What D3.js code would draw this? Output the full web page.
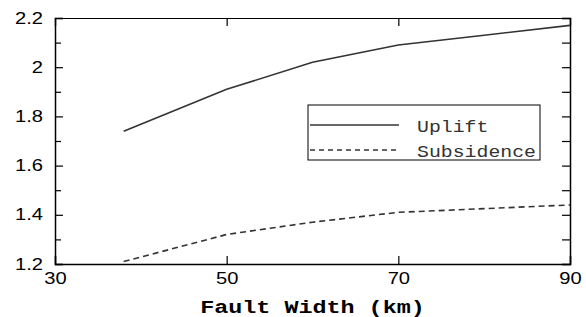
<!DOCTYPE html>
<html>
<head>
<meta charset="utf-8">
<script src="https://cdn.jsdelivr.net/npm/d3@7"></script>
<style>
  body { margin: 0; background: #fff; }
  svg { display: block; }
</style>
</head>
<body>
<div id="chart"></div>
<script>
const width = 586;
const height = 317;
const margin = {top: 18, right: 16, bottom: 53, left: 55};
const stretch = 1.26; // the original text is drawn wider than it is tall

// values
const faultWidth = [38, 50, 60, 70, 80, 90];
const uplift = [1.74, 1.91, 2.02, 2.09, 2.13, 2.17];
const subsidence = [1.21, 1.32, 1.37, 1.41, 1.425, 1.44];
const xTicks = [30, 50, 70, 90];
const yTicks = [1.2, 1.4, 1.6, 1.8, 2, 2.2];
const yMinor = [1.3, 1.5, 1.7, 1.9, 2.1];
const seriesNames = ["Uplift", "Subsidence"];

const x = d3.scaleLinear()
  .domain([30, 90])
  .range([margin.left, width - margin.right]);

const y = d3.scaleLinear()
  .domain([1.2, 2.2])
  .range([height - margin.bottom, margin.top]);

const svg = d3.select('#chart').append('svg')
  .attr('width', width)
  .attr('height', height);

const tickFont = g => g
  .attr('font-family', 'Liberation Sans, Arial, sans-serif')
  .attr('font-size', 16)
  .attr('color', '#000')
  .call(g => g.selectAll('.tick text').attr('transform', `scale(${stretch},1)`));

// bottom axis, ticks point inward
svg.append('g')
  .attr('transform', `translate(0,${height - margin.bottom})`)
  .call(d3.axisBottom(x).tickValues(xTicks).tickSize(-8).tickPadding(6).tickFormat(d3.format('d')))
  .call(tickFont)
  .call(g => g.select('.domain').attr('stroke-width', 1.5))
  .call(g => g.selectAll('.tick line').attr('stroke-width', 1.2))
  .call(g => g.selectAll('.tick text').attr('dy', '0.85em'));

// top axis, no labels
svg.append('g')
  .attr('transform', `translate(0,${margin.top})`)
  .call(d3.axisTop(x).tickValues(xTicks).tickSize(-8).tickFormat(''))
  .call(g => g.select('.domain').attr('stroke-width', 1.2))
  .call(g => g.selectAll('.tick line').attr('stroke-width', 1.2));

// left axis
svg.append('g')
  .attr('transform', `translate(${margin.left},0)`)
  .call(d3.axisLeft(y).tickValues(yTicks).tickSize(-8).tickPadding(9.5).tickFormat(d3.format('')))
  .call(tickFont)
  .call(g => g.select('.domain').attr('stroke-width', 1.5))
  .call(g => g.selectAll('.tick line').attr('stroke-width', 1.2));

svg.append('g')
  .attr('transform', `translate(${margin.left},0)`)
  .call(d3.axisLeft(y).tickValues(yMinor).tickSize(-6).tickFormat(''))
  .call(g => g.select('.domain').remove())
  .call(g => g.selectAll('.tick line').attr('stroke-width', 1.2));

// right axis
svg.append('g')
  .attr('transform', `translate(${width - margin.right},0)`)
  .call(d3.axisRight(y).tickValues(yTicks.concat(yMinor)).tickSize(-8).tickFormat(''))
  .call(g => g.select('.domain').attr('stroke-width', 1.5))
  .call(g => g.selectAll('.tick line').attr('stroke-width', 1.2));

const line = d3.line()
  .x(d => x(d[0]))
  .y(d => y(d[1]));

svg.append('path')
  .datum(d3.zip(faultWidth, uplift))
  .attr('fill', 'none')
  .attr('stroke', '#333')
  .attr('stroke-width', 1.6)
  .attr('d', line);

svg.append('path')
  .datum(d3.zip(faultWidth, subsidence))
  .attr('fill', 'none')
  .attr('stroke', '#333')
  .attr('stroke-width', 1.6)
  .attr('stroke-dasharray', '6,4')
  .attr('d', line);

// x axis title
svg.append('text')
  .attr('x', (margin.left + width - margin.right) / 2 / 1.3)
  .attr('y', 313)
  .attr('transform', 'scale(1.3,1)')
  .attr('text-anchor', 'middle')
  .attr('font-family', 'Liberation Mono, Courier New, monospace')
  .attr('font-weight', 'bold')
  .attr('font-size', 18)
  .text('Fault Width (km)');

// legend
const legend = svg.append('g').attr('transform', 'translate(308,105)');

legend.append('rect')
  .attr('width', 232)
  .attr('height', 55)
  .attr('fill', '#fff')
  .attr('stroke', '#000')
  .attr('stroke-width', 1);

legend.selectAll('g.item')
  .data(seriesNames)
  .join('g')
  .attr('class', 'item')
  .attr('transform', (d, i) => `translate(0,${20 + i * 25})`)
  .each(function(d, i) {
    const g = d3.select(this);
    g.append('line')
      .attr('x1', 2).attr('x2', 91)
      .attr('stroke', '#333')
      .attr('stroke-width', 1.4)
      .attr('stroke-dasharray', i ? '5,4' : null);
    g.append('text')
      .attr('x', 109 / 1.24)
      .attr('y', 7)
      .attr('transform', 'scale(1.24,1)')
      .attr('font-family', 'Liberation Mono, Courier New, monospace')
      .attr('font-size', 16)
      .attr('fill', '#333')
      .text(d);
  });
</script>
</body>
</html>
